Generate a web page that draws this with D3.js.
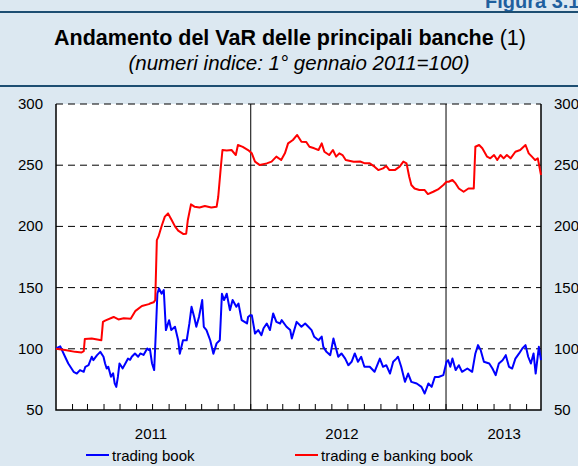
<!DOCTYPE html>
<html>
<head>
<meta charset="utf-8">
<script src="https://cdn.jsdelivr.net/npm/d3@7"></script>
<style>
    body { margin: 0; background: #dce8f1; overflow: hidden; }
    text { font-family: "Liberation Sans", Arial, sans-serif; }
</style>
</head>
<body>
<div id="chart"></div>
<script>
"use strict"

// indice VaR, trading book (blu)
let tradingBook = [
    ["2011-01-01", 100.3], ["2011-01-09", 102], ["2011-01-18", 93.5], ["2011-01-24", 88], ["2011-02-03", 81.2],
    ["2011-02-09", 79.8], ["2011-02-15", 82.6], ["2011-02-22", 81.2], ["2011-02-25", 85.3], ["2011-03-03", 86.6],
    ["2011-03-09", 93.5], ["2011-03-12", 90.7], ["2011-03-19", 94.8], ["2011-03-25", 97.5], ["2011-03-31", 93.5],
    ["2011-04-03", 88], ["2011-04-06", 83.9], ["2011-04-09", 85.3], ["2011-04-14", 77.1], ["2011-04-18", 80],
    ["2011-04-21", 71.7], ["2011-04-24", 68.9], ["2011-04-27", 77], ["2011-04-30", 88], ["2011-05-06", 84],
    ["2011-05-11", 88], ["2011-05-16", 92], ["2011-05-20", 91], ["2011-05-23", 93.5], ["2011-05-29", 96.2],
    ["2011-06-04", 93.5], ["2011-06-08", 96.2], ["2011-06-14", 95], ["2011-06-21", 100.3], ["2011-06-24", 99],
    ["2011-06-26", 100], ["2011-06-30", 88], ["2011-07-04", 82.6], ["2011-07-07", 112.5], ["2011-07-10", 145],
    ["2011-07-13", 149.3], ["2011-07-18", 145], ["2011-07-22", 148], ["2011-07-26", 115.3], ["2011-08-01", 123.4],
    ["2011-08-05", 115.3], ["2011-08-12", 118], ["2011-08-18", 107], ["2011-08-21", 96], ["2011-08-27", 107],
    ["2011-09-03", 107], ["2011-09-08", 120.7], ["2011-09-12", 134.3], ["2011-09-17", 126], ["2011-09-21", 118],
    ["2011-09-26", 126], ["2011-10-02", 139.8], ["2011-10-05", 118], ["2011-10-10", 115.3], ["2011-10-17", 107],
    ["2011-10-23", 96], ["2011-10-29", 104.4], ["2011-11-04", 107], ["2011-11-08", 145], ["2011-11-12", 139.8],
    ["2011-11-17", 145], ["2011-11-23", 131.6], ["2011-11-28", 139.8], ["2011-12-05", 134.3], ["2011-12-09", 137],
    ["2011-12-15", 123.4], ["2011-12-25", 120.7], ["2011-12-27", 126], ["2011-12-31", 127.5],
    ["2012-01-03", 127.5], ["2012-01-09", 112.5], ["2012-01-15", 115.3], ["2012-01-21", 111.2], ["2012-01-25", 116.8],
    ["2012-01-31", 120.7], ["2012-02-06", 115.3], ["2012-02-12", 128.9], ["2012-02-18", 122], ["2012-02-25", 120.7],
    ["2012-02-28", 123.4], ["2012-03-08", 118], ["2012-03-15", 115.3], ["2012-03-18", 108.4], ["2012-03-27", 122],
    ["2012-04-05", 118], ["2012-04-12", 120.7], ["2012-04-18", 118], ["2012-04-24", 115.3], ["2012-04-29", 109.8],
    ["2012-05-07", 107], ["2012-05-13", 110], ["2012-05-16", 101.6], ["2012-05-22", 97.5], ["2012-05-29", 94.8],
    ["2012-06-04", 108.4], ["2012-06-08", 101.6], ["2012-06-13", 93.5], ["2012-06-19", 96.2], ["2012-06-26", 92],
    ["2012-07-02", 86.6], ["2012-07-08", 89.4], ["2012-07-14", 96.2], ["2012-07-20", 89.4], ["2012-07-26", 93.5],
    ["2012-08-01", 85.3], ["2012-08-11", 85.3], ["2012-08-20", 81.2], ["2012-08-30", 92], ["2012-09-05", 85.3],
    ["2012-09-11", 86.6], ["2012-09-18", 79.8], ["2012-09-24", 89.4], ["2012-09-30", 92], ["2012-10-03", 93.5],
    ["2012-10-09", 85.3], ["2012-10-16", 73], ["2012-10-22", 79.8], ["2012-10-28", 73], ["2012-11-07", 71.7],
    ["2012-11-16", 68.9], ["2012-11-22", 63.5], ["2012-11-29", 71.7], ["2012-12-05", 68.9], ["2012-12-11", 77],
    ["2012-12-18", 77], ["2012-12-27", 78.5],
    ["2013-01-02", 89.4], ["2013-01-05", 90.7], ["2013-01-09", 85.3], ["2013-01-13", 92], ["2013-01-19", 82.6],
    ["2013-01-25", 86.6], ["2013-01-31", 81.2], ["2013-02-10", 83.9], ["2013-02-19", 81.2], ["2013-02-25", 96.2],
    ["2013-03-02", 103], ["2013-03-07", 98.9], ["2013-03-13", 89.4], ["2013-03-23", 88], ["2013-03-29", 83.9],
    ["2013-04-04", 78.5], ["2013-04-10", 88], ["2013-04-17", 90.7], ["2013-04-23", 94.8], ["2013-04-29", 85.3],
    ["2013-05-05", 83.9], ["2013-05-11", 92], ["2013-05-18", 96.2], ["2013-05-24", 100.3], ["2013-05-30", 103],
    ["2013-06-04", 93.5], ["2013-06-09", 88], ["2013-06-14", 96.2], ["2013-06-18", 79.8], ["2013-06-24", 101.6],
    ["2013-06-28", 90.7]
];

// indice VaR, trading e banking book (rosso)
let tradingBankingBook = [
    ["2011-01-01", 100], ["2011-01-18", 99], ["2011-02-06", 97.5], ["2011-02-18", 97], ["2011-02-22", 98],
    ["2011-02-24", 108], ["2011-03-09", 108.5], ["2011-03-27", 107], ["2011-03-30", 122], ["2011-04-03", 123],
    ["2011-04-19", 126], ["2011-04-28", 124], ["2011-05-08", 125], ["2011-05-21", 124.5], ["2011-05-30", 131],
    ["2011-06-11", 135], ["2011-06-24", 136.5], ["2011-06-26", 137], ["2011-07-03", 138], ["2011-07-06", 139.8],
    ["2011-07-09", 188.8], ["2011-07-12", 191.6], ["2011-07-18", 200.3], ["2011-07-24", 208], ["2011-07-30", 210.6],
    ["2011-08-06", 205], ["2011-08-12", 200], ["2011-08-18", 196.5], ["2011-08-28", 193.7], ["2011-09-02", 194],
    ["2011-09-05", 205], ["2011-09-11", 218], ["2011-09-18", 216], ["2011-09-27", 215.5], ["2011-10-07", 216.6],
    ["2011-10-19", 215.5], ["2011-10-29", 216], ["2011-11-01", 224], ["2011-11-06", 248.8], ["2011-11-09", 262.4],
    ["2011-11-17", 262], ["2011-11-26", 262.4], ["2011-12-04", 258.3], ["2011-12-08", 266.5], ["2011-12-17", 265],
    ["2011-12-27", 262.4],
    ["2012-01-03", 259.7], ["2012-01-09", 252.9], ["2012-01-18", 250.1], ["2012-01-31", 251.5], ["2012-02-09", 252.9],
    ["2012-02-18", 257], ["2012-02-27", 254.2], ["2012-03-05", 259.7], ["2012-03-11", 267.8], ["2012-03-20", 270.6],
    ["2012-03-28", 274.7], ["2012-04-05", 269.2], ["2012-04-14", 269], ["2012-04-20", 265.1], ["2012-04-29", 263.8],
    ["2012-05-07", 262.4], ["2012-05-13", 267.8], ["2012-05-18", 261], ["2012-05-27", 258.3], ["2012-06-03", 262.4],
    ["2012-06-09", 257], ["2012-06-15", 259.7], ["2012-06-21", 258.3], ["2012-06-27", 254.2], ["2012-07-12", 252.9],
    ["2012-07-24", 253], ["2012-08-02", 251.5], ["2012-08-11", 251.5], ["2012-08-20", 248.8], ["2012-08-27", 246],
    ["2012-09-05", 247.4], ["2012-09-11", 249.3], ["2012-09-17", 246], ["2012-09-27", 246], ["2012-10-06", 248.8],
    ["2012-10-13", 252.9], ["2012-10-19", 251.5], ["2012-10-24", 240.6], ["2012-10-28", 233.8], ["2012-11-03", 231],
    ["2012-11-12", 229.7], ["2012-11-22", 229.7], ["2012-11-28", 226.4], ["2012-12-08", 228.3], ["2012-12-17", 230.2],
    ["2012-12-27", 233.8],
    ["2013-01-02", 236.5], ["2013-01-06", 236.5], ["2013-01-13", 237.9], ["2013-01-19", 235.1], ["2013-01-25", 231],
    ["2013-02-03", 228.3], ["2013-02-12", 231], ["2013-02-22", 231], ["2013-02-25", 265.1], ["2013-03-04", 266.5],
    ["2013-03-10", 263.8], ["2013-03-19", 257], ["2013-03-25", 255.6], ["2013-04-01", 258.3], ["2013-04-07", 254.2],
    ["2013-04-13", 258.3], ["2013-04-19", 255.6], ["2013-04-25", 258.3], ["2013-05-02", 255.6], ["2013-05-11", 261],
    ["2013-05-20", 262.4], ["2013-05-30", 266.5], ["2013-06-05", 259.7], ["2013-06-11", 257], ["2013-06-17", 254.2],
    ["2013-06-22", 255.6], ["2013-06-28", 242]
];

let yTicks = [50, 100, 150, 200, 250, 300];
let yearLabels = [["2011", "2011-06-28"], ["2012", "2012-06-20"], ["2013", "2013-04-20"]];
let yearBreaks = ["2012-01-01", "2013-01-01"];
let legendNames = ["trading book", "trading e banking book"];

var parse = d3.timeParse("%Y-%m-%d");
var width = 578, height = 466;
var plotLeft = 56, plotRight = 541, plotTop = 104, plotBottom = 410;

var svg = d3.select("#chart").append("svg")
    .attr("width", width)
    .attr("height", height);

svg.append("rect").attr("width", width).attr("height", height).attr("fill", "#dce8f1");

// header (the figure number is cut by the page edge, as in the source)
svg.append("text")
    .attr("x", 485).attr("y", 8)
    .attr("fill", "#1f5f9e")
    .style("font-size", "20px").style("font-weight", "bold")
    .text("Figura 3.1");
svg.append("line").attr("x1", 0).attr("x2", width).attr("y1", 12).attr("y2", 12)
    .attr("stroke", "#1d4e72").attr("stroke-width", 2);
svg.append("line").attr("x1", 0).attr("x2", width).attr("y1", 86).attr("y2", 86)
    .attr("stroke", "#1d4e72").attr("stroke-width", 2);

var title = svg.append("text")
    .attr("x", 290).attr("y", 45)
    .attr("text-anchor", "middle")
    .style("font-size", "21.5px");
title.append("tspan").style("font-weight", "bold").text("Andamento del VaR delle principali banche");
title.append("tspan").text(" (1)");

svg.append("text")
    .attr("x", 299).attr("y", 70)
    .attr("text-anchor", "middle")
    .style("font-size", "20.5px").style("font-style", "italic")
    .text("(numeri indice: 1° gennaio 2011=100)");

// scales
var x = d3.scaleTime()
    .domain([parse("2011-01-01"), parse("2013-06-28")])
    .range([plotLeft, plotRight]);
var y = d3.scaleLinear()
    .domain([50, 300])
    .range([plotBottom, plotTop]);

svg.append("rect")
    .attr("x", plotLeft).attr("y", plotTop)
    .attr("width", plotRight - plotLeft).attr("height", plotBottom - plotTop)
    .attr("fill", "#fff");

// dashed grid
svg.append("g")
    .selectAll("line")
    .data(yTicks.filter(function (d) { return d > 50; }))
    .enter()
    .append("line")
    .attr("x1", plotLeft).attr("x2", plotRight)
    .attr("y1", function (d) { return y(d); })
    .attr("y2", function (d) { return y(d); })
    .attr("stroke", "#000")
    .attr("stroke-width", 1)
    .attr("stroke-dasharray", "7,5");

// year separators
svg.append("g")
    .selectAll("line")
    .data(yearBreaks)
    .enter()
    .append("line")
    .attr("x1", function (d) { return x(parse(d)); })
    .attr("x2", function (d) { return x(parse(d)); })
    .attr("y1", plotTop).attr("y2", plotBottom)
    .attr("stroke", "#000").attr("stroke-width", 1);

// month ticks
svg.append("g")
    .selectAll("line")
    .data(d3.timeMonth.range(parse("2011-02-01"), parse("2013-06-28")))
    .enter()
    .append("line")
    .attr("x1", function (d) { return x(d); })
    .attr("x2", function (d) { return x(d); })
    .attr("y1", plotBottom).attr("y2", plotBottom - 6)
    .attr("stroke", "#000").attr("stroke-width", 1);

// frame (left, bottom, right)
svg.append("path")
    .attr("d", "M" + plotLeft + "," + plotTop + "V" + plotBottom + "H" + plotRight + "V" + plotTop)
    .attr("fill", "none")
    .attr("stroke", "#000")
    .attr("stroke-width", 1.5);

// y labels, both sides
svg.append("g")
    .selectAll("text")
    .data(yTicks)
    .enter()
    .append("text")
    .attr("x", plotLeft - 13)
    .attr("y", function (d) { return y(d) + 5; })
    .attr("text-anchor", "end")
    .style("font-size", "15px")
    .text(function (d) { return d; });
svg.append("g")
    .selectAll("text")
    .data(yTicks)
    .enter()
    .append("text")
    .attr("x", plotRight + 13)
    .attr("y", function (d) { return y(d) + 5; })
    .style("font-size", "15px")
    .text(function (d) { return d; });

svg.append("g")
    .selectAll("text")
    .data(yearLabels)
    .enter()
    .append("text")
    .attr("x", function (d) { return x(parse(d[1])); })
    .attr("y", 439)
    .attr("text-anchor", "middle")
    .style("font-size", "15px")
    .text(function (d) { return d[0]; });

// series
var line = d3.line()
    .x(function (d) { return x(parse(d[0])); })
    .y(function (d) { return y(d[1]); });

svg.append("path")
    .datum(tradingBook)
    .attr("d", line)
    .attr("fill", "none")
    .attr("stroke", "#0000ff")
    .attr("stroke-width", 2)
    .attr("stroke-linejoin", "round");
svg.append("path")
    .datum(tradingBankingBook)
    .attr("d", line)
    .attr("fill", "none")
    .attr("stroke", "#ff0000")
    .attr("stroke-width", 2)
    .attr("stroke-linejoin", "round");

// legend
var legendItems = [
    { name: legendNames[0], color: "#0000ff", x: 86 },
    { name: legendNames[1], color: "#ff0000", x: 295 }
];
var lg = svg.append("g")
    .selectAll("g")
    .data(legendItems)
    .enter()
    .append("g")
    .attr("transform", function (d) { return "translate(" + d.x + ",455)"; });
lg.append("line")
    .attr("x1", 0).attr("x2", 23)
    .attr("stroke", function (d) { return d.color; })
    .attr("stroke-width", 2);
lg.append("text")
    .attr("x", 26).attr("y", 6)
    .style("font-size", "15px")
    .text(function (d) { return d.name; });
</script>
</body>
</html>
